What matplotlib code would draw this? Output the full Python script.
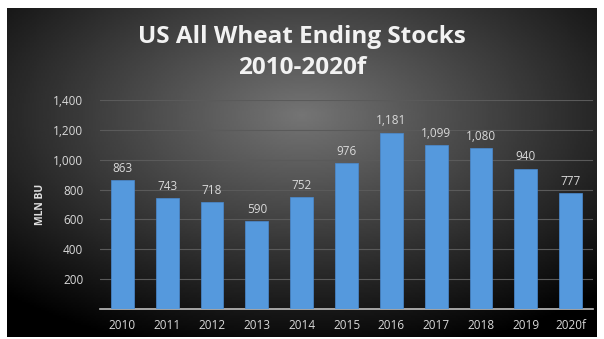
import numpy as np
import matplotlib
matplotlib.use("Agg")
import matplotlib.pyplot as plt

years = ["2010", "2011", "2012", "2013", "2014", "2015", "2016", "2017", "2018", "2019", "2020f"]
stocks = [863, 743, 718, 590, 752, 976, 1181, 1099, 1080, 940, 777]
yticks = [200, 400, 600, 800, 1000, 1200, 1400]

W, H = 604, 339
fig = plt.figure(figsize=(W / 100, H / 100), dpi=100)
fig.patch.set_facecolor("white")

# dark radial-gradient panel
bg = fig.add_axes([7 / W, 2 / H, 590 / W, 329 / H])
yy, xx = np.mgrid[-1:1:200j, -1:1:300j]
r = np.sqrt((xx * 0.9) ** 2 + ((yy + 0.35) * 0.9) ** 2)
bg.imshow(r, cmap="gray_r", vmin=-1.6, vmax=1.35, aspect="auto", extent=[0, 1, 0, 1])
bg.set_axis_off()

ax = fig.add_axes([100 / W, (H - 309) / H, 493 / W, 209 / H])
ax.patch.set_alpha(0)
x = np.arange(len(years))
ax.bar(x, stocks, width=0.51, color="#5599dd", edgecolor="#4a8ad0", linewidth=0.5, zorder=3)
for xi, v in zip(x, stocks):
    ax.text(xi, v + 35, f"{v:,}", ha="center", va="bottom", color="#d9d9d9",
            fontsize=8.5, family="Open Sans")

ax.set_xlim(-0.5, len(years) - 0.5)
ax.set_ylim(0, 1400)
ax.set_yticks(yticks)
ax.set_yticklabels([f"{t:,}" for t in yticks])
ax.set_xticks(x)
ax.set_xticklabels(years)
ax.tick_params(length=0, colors="#d9d9d9", labelsize=8.5, pad=7)
for lab in ax.get_xticklabels() + ax.get_yticklabels():
    lab.set_family("Open Sans")
ax.tick_params(axis="y", pad=12)
ax.grid(axis="y", color="#5a5a5a", linewidth=0.8, zorder=0)
for s in ["top", "right", "left"]:
    ax.spines[s].set_visible(False)
ax.spines["bottom"].set_color("#bfbfbf")
ax.spines["bottom"].set_linewidth(1.2)
ax.set_ylabel("MLN BU", color="#e0e0e0", fontsize=7.5, fontweight="bold", family="Open Sans", labelpad=5)

fig.text(302 / W, 1 - 37 / H, "US All Wheat Ending Stocks", ha="center", va="center",
         color="#f2f2f2", fontsize=17.5, fontweight="bold", family="Open Sans")
fig.text(302 / W, 1 - 68 / H, "2010-2020f", ha="center", va="center",
         color="#f2f2f2", fontsize=17.5, fontweight="bold", family="Open Sans")

fig.savefig("out.png", dpi=100, facecolor=fig.get_facecolor())
